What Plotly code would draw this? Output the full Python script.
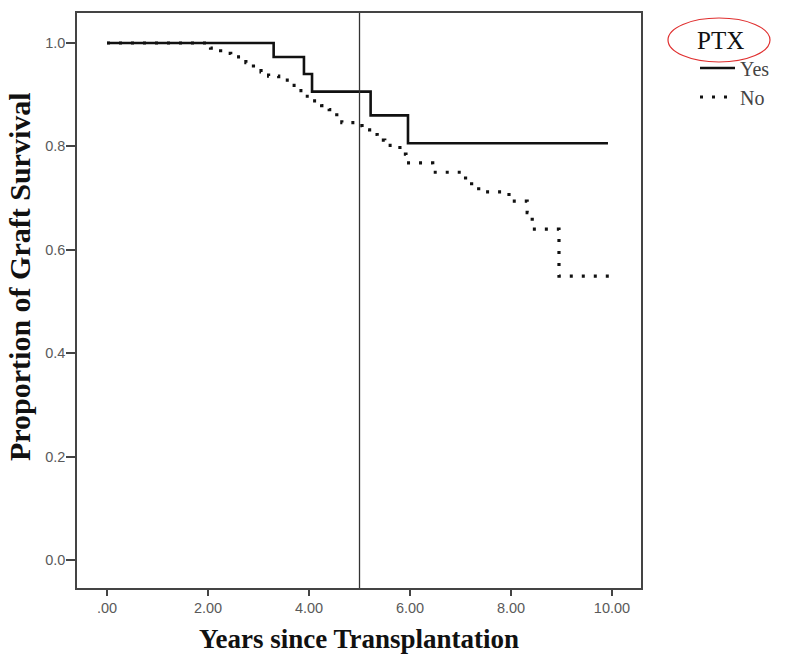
import plotly.graph_objects as go

# Kaplan-Meier step data (time, survival after the event)
yes_t = [0.0, 3.30, 3.90, 4.06, 5.22, 5.96, 9.92]
yes_s = [1.0, 0.973, 0.940, 0.906, 0.860, 0.806, 0.806]

no_t = [0.0, 2.05, 2.25, 2.45, 2.75, 2.90, 3.05, 3.20, 3.40, 3.60, 3.75, 3.90,
        4.05, 4.25, 4.40, 4.55, 4.65, 4.95, 5.05, 5.20, 5.35, 5.50, 5.80, 5.92,
        6.45, 7.10, 7.22, 7.36, 7.96, 8.32, 8.42, 8.95, 10.02]
no_s = [1.0, 0.990, 0.980, 0.973, 0.962, 0.952, 0.944, 0.936, 0.928, 0.918, 0.908, 0.897,
        0.888, 0.879, 0.871, 0.857, 0.846, 0.840, 0.832, 0.823, 0.812, 0.802, 0.785, 0.768,
        0.750, 0.735, 0.722, 0.712, 0.694, 0.672, 0.640, 0.549, 0.549]

x_ticks = [0, 2, 4, 6, 8, 10]
x_ticktext = [".00", "2.00", "4.00", "6.00", "8.00", "10.00"]
y_ticks = [0.0, 0.2, 0.4, 0.6, 0.8, 1.0]
y_ticktext = ["0.0", "0.2", "0.4", "0.6", "0.8", "1.0"]
cutoff_year = 5

# page geometry (body margin removed below, so figure px == page px)
PL, PR, PT, PB = 77, 641, 13, 588
W, H = 800, 661
def px(x):
    return (x - PL) / (PR - PL)
def py(y):
    return (PB - y) / (PB - PT)

fig = go.Figure()
fig.add_trace(go.Scatter(x=yes_t, y=yes_s, mode="lines", name="Yes",
                         line=dict(shape="hv", color="#111111", width=2.6)))
fig.add_trace(go.Scatter(x=no_t, y=no_s, mode="lines", name="No",
                         line=dict(shape="hv", color="#111111", width=3.2, dash="3px,9px")))

fig.add_shape(type="line", xref="x", yref="paper", x0=cutoff_year, x1=cutoff_year, y0=0, y1=1,
              line=dict(color="#333333", width=1.3))

# red ellipse around legend title
fig.add_shape(type="circle", xref="paper", yref="paper",
              x0=px(668), x1=px(770), y0=py(62), y1=py(18),
              line=dict(color="#e03030", width=1.2))

# y axis title placed as annotation (it sits slightly above the box centre)
fig.add_annotation(text="<b>Proportion of Graft Survival</b>", textangle=-90,
                   xref="paper", yref="paper", x=px(19), y=py(277),
                   xanchor="center", yanchor="middle", showarrow=False,
                   font=dict(family="Liberation Serif", size=30, color="#111111"))

axis_common = dict(showline=True, linecolor="#444444", linewidth=1.5, mirror=True,
                   ticks="outside", tickcolor="#444444", tickwidth=1.5,
                   showgrid=False, zeroline=False,
                   tickfont=dict(family="Liberation Sans", size=14.5, color="#5a5a5a"))

fig.update_layout(
    width=W, height=H,
    margin=dict(l=PL, r=W - PR, t=PT, b=H - PB),
    plot_bgcolor="white", paper_bgcolor="white",
    xaxis=dict(range=[-0.594, 10.574], tickvals=x_ticks, ticktext=x_ticktext, ticklen=6,
               title=dict(text="<b>Years since Transplantation</b>", standoff=14,
                          font=dict(family="Liberation Serif", size=27, color="#111111")),
               **axis_common),
    yaxis=dict(range=[-0.054, 1.058], tickvals=y_ticks, ticktext=y_ticktext, ticklen=9,
               ticklabelstandoff=-2, **axis_common),
    legend=dict(x=px(695), y=py(16), xanchor="left", yanchor="top", itemwidth=35,
                title=dict(text="PTX  ", font=dict(family="Liberation Serif", size=25, color="#111111")),
                font=dict(family="Liberation Serif", size=20, color="#444444"),
                bgcolor="rgba(0,0,0,0)", tracegroupgap=4),
    showlegend=True,
)

fig.write_html("out.html", config={"displayModeBar": False},
               post_script="document.body.style.margin='0';document.body.style.overflow='hidden';")
